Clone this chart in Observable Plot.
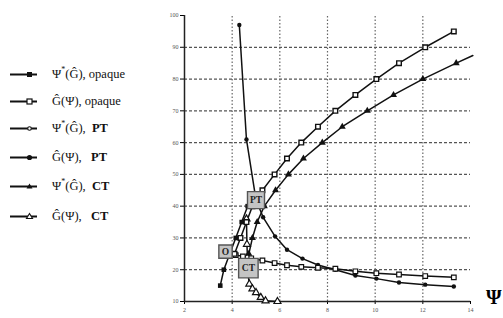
<!DOCTYPE html>
<html><head><meta charset="utf-8">
<script src="https://cdn.jsdelivr.net/npm/d3@7"></script>
<script src="https://cdn.jsdelivr.net/npm/@observablehq/plot@0.6"></script>
<style>
body{margin:0;background:#fff;}
#wrap{position:relative;width:503px;height:318px;overflow:hidden;font-family:"Liberation Serif","DejaVu Serif",serif;}
#chart{position:absolute;left:0;top:0;}
.leg{position:absolute;left:0;top:0;}
.row{position:absolute;left:10px;height:20px;display:flex;align-items:center;white-space:nowrap;font-size:12.5px;color:#111;}
.row svg{margin-right:14px;}
.row sup{font-size:8px;vertical-align:6px;line-height:0;}
.b{font-weight:bold;}
#psi{position:absolute;left:486px;top:286px;font-size:20px;font-weight:bold;font-family:"Liberation Serif",serif;}
</style></head>
<body>
<div id="wrap"><div id="chart"></div><div id="legend" class="leg"></div><div id="psi">Ψ</div></div>
<script>
// ---- data (x = Ψ, y = G) ----
const psiOpaquePsi = [3.5, 3.65, 3.9, 4.15, 4.4, 4.65];
const psiOpaqueG   = [15, 20, 25, 30, 35, 40];

const gOpaquePsi = [3.9, 4.15, 4.45, 4.8, 5.27, 5.78, 6.3, 6.9, 7.6, 8.33, 9.17, 10.05, 11.0, 12.1, 13.3];
const gOpaqueG   = [25, 24.6, 24.2, 23.6, 22.9, 22.1, 21.4, 20.9, 20.6, 20.3, 19.5, 18.9, 18.5, 18.0, 17.6];

const psiPTPsi = [4.1, 4.35, 4.6, 4.85, 5.27, 5.78, 6.3, 6.9, 7.6, 8.33, 9.17, 10.05, 11.0, 12.1, 13.3];
const psiPTG   = [25, 30, 35, 40, 45, 50, 55, 60, 65, 70, 75, 80, 85, 90, 95];

const gPTPsi = [4.3, 4.6, 5.0, 5.3, 5.8, 6.3, 6.95, 7.6, 8.33, 9.17, 10.05, 11.0, 12.1, 13.3];
const gPTG   = [97, 61, 42, 36.5, 30.5, 26.3, 23.5, 21.5, 20.0, 18.2, 17.2, 16.0, 15.3, 14.7];

const psiCTPsi = [4.6, 4.7, 4.85, 5.05, 5.35, 5.82, 6.36, 6.99, 7.78, 8.62, 9.67, 10.77, 12.0, 13.4, 14.1];
const psiCTG   = [20, 25, 30, 35, 40, 45, 50, 55, 60, 65, 70, 75, 80, 85, 87.4];
const psiCTMarked = [1,1,1,1,1,1,1,1,1,1,1,1,1,1,0];

const gCTPsi = [4.6, 4.62, 4.64, 4.66, 4.72, 4.85, 5.0, 5.2, 5.4, 5.9];
const gCTG   = [36, 28, 24, 19, 15.5, 14, 12.8, 11.3, 10.2, 10];

const eqNames = ["O", "PT", "CT"];
const eqPsi   = [3.72, 5.0, 4.68];
const eqG     = [25.7, 41.9, 20.5];
const eqSize  = [7.5, 9.6, 11];

const xTicks = [2, 4, 6, 8, 10, 12, 14];
const yTicks = [10, 20, 30, 40, 50, 60, 70, 80, 90, 100];
const hGrid = [20, 30, 40, 50, 60, 70, 80, 90];
const vGrid = [4, 6, 8, 10, 12];

const legendLabels = [
  'Ψ<sup>*</sup>(Ĝ), opaque',
  'Ĝ(Ψ), opaque',
  'Ψ<sup>*</sup>(Ĝ), &nbsp;<span class="b">PT</span>',
  'Ĝ(Ψ), &nbsp;&nbsp;<span class="b">PT</span>',
  'Ψ<sup>*</sup>(Ĝ), &nbsp;<span class="b">CT</span>',
  'Ĝ(Ψ), &nbsp;&nbsp;<span class="b">CT</span>'
];

const zip = (xs, ys) => xs.map((x, i) => ({x, y: ys[i], i}));
const psiOpaque = zip(psiOpaquePsi, psiOpaqueG);
const gOpaque = zip(gOpaquePsi, gOpaqueG);
const psiPT = zip(psiPTPsi, psiPTG);
const gPT = zip(gPTPsi, gPTG);
const psiCT = zip(psiCTPsi, psiCTG);
const gCT = zip(gCTPsi, gCTG);
const eq = eqNames.map((n, i) => ({n, x: eqPsi[i], y: eqG[i], r: eqSize[i]}));

const lineOpt = {x: "x", y: "y", stroke: "#111", strokeWidth: 1.5};

const chart = Plot.plot({
  width: 503, height: 318,
  marginLeft: 184, marginRight: 33, marginTop: 15, marginBottom: 17,
  style: {fontFamily: "Liberation Serif, serif", background: "transparent"},
  x: {domain: [2, 14], ticks: xTicks, tickSize: 3, tickPadding: 3, label: null},
  y: {domain: [10, 100], ticks: yTicks, tickSize: 4, tickPadding: 2, label: null},
  r: {type: "identity"},
  marks: [
    Plot.ruleY(hGrid, {stroke: "#555", strokeWidth: 1.3, strokeDasharray: "3,2"}),
    Plot.ruleX(vGrid, {y1: 10, y2: 100, stroke: "#666", strokeWidth: 1.2, strokeDasharray: "1.5,2"}),
    Plot.axisX({ticks: xTicks, tickSize: 3, tickPadding: 3, fontSize: 6, fill: "#555", label: null}),
    Plot.axisY({ticks: yTicks, tickSize: 4, tickPadding: 2, fontSize: 6, fill: "#555", label: null}),
    Plot.ruleY([10], {stroke: "#222", strokeWidth: 1.5}),
    Plot.ruleX([2], {y1: 10, y2: 100, stroke: "#222", strokeWidth: 1.5}),
    // lines
    Plot.line(gCT, lineOpt),
    Plot.line(gPT, lineOpt),
    Plot.line(gOpaque, lineOpt),
    Plot.line(psiCT, lineOpt),
    Plot.line(psiPT, lineOpt),
    Plot.line(psiOpaque, lineOpt),
    // markers
    Plot.dot(gCT, {x: "x", y: "y", symbol: "triangle", r: 2.6, fill: "white", stroke: "#111", strokeWidth: 1.2}),
    Plot.dot(gPT, {x: "x", y: "y", symbol: "circle", r: 2.2, fill: "#111"}),
    Plot.dot(gOpaque, {x: "x", y: "y", symbol: "square", r: 2.6, fill: "white", stroke: "#111", strokeWidth: 1.2}),
    Plot.dot(psiCT, {filter: d => psiCTMarked[d.i], x: "x", y: "y", symbol: "triangle", r: 2.6, fill: "#111"}),
    Plot.dot(psiPT, {x: "x", y: "y", symbol: "square", r: 2.6, fill: "white", stroke: "#111", strokeWidth: 1.4}),
    Plot.dot(psiOpaque, {x: "x", y: "y", symbol: "square", r: 2.6, fill: "#111"}),
    // equilibrium boxes
    Plot.dot(eq, {x: "x", y: "y", symbol: "square", r: "r", fill: "#c4c4c4", stroke: "#555", strokeWidth: 1.4}),
    Plot.text(eq, {x: "x", y: "y", text: "n", fontSize: 9.5, fontWeight: "bold", fill: "#222", fontFamily: "Liberation Serif, serif"})
  ]
});
chart.style.overflow = "visible";
document.getElementById("chart").appendChild(chart);

// legend icons
const icons = [
  '<rect x="17" y="2" width="5" height="5" fill="#111"/>',
  '<rect x="17" y="2" width="5" height="5" fill="white" stroke="#111" stroke-width="1.2"/>',
  '<circle cx="19.5" cy="4.5" r="1.8" fill="white" stroke="#111" stroke-width="1.1"/>',
  '<circle cx="19.5" cy="4.5" r="2.6" fill="#111"/>',
  '<path d="M19.5,1.5 L22.5,6.5 L16.5,6.5 Z" fill="#111"/>',
  '<path d="M19.5,1.5 L22.5,6.5 L16.5,6.5 Z" fill="white" stroke="#111" stroke-width="1.1"/>'
];
const rowY = [74, 101, 128, 157, 186, 216];
const leg = document.getElementById("legend");
legendLabels.forEach((lab, i) => {
  const r = document.createElement("div");
  r.className = "row";
  r.style.top = (rowY[i] - 10) + "px";
  r.innerHTML = `<svg width="28" height="9"><line x1="0" y1="4.5" x2="27" y2="4.5" stroke="#111" stroke-width="2"/>${icons[i]}</svg><span>${lab}</span>`;
  leg.appendChild(r);
});
</script>
</body></html>
